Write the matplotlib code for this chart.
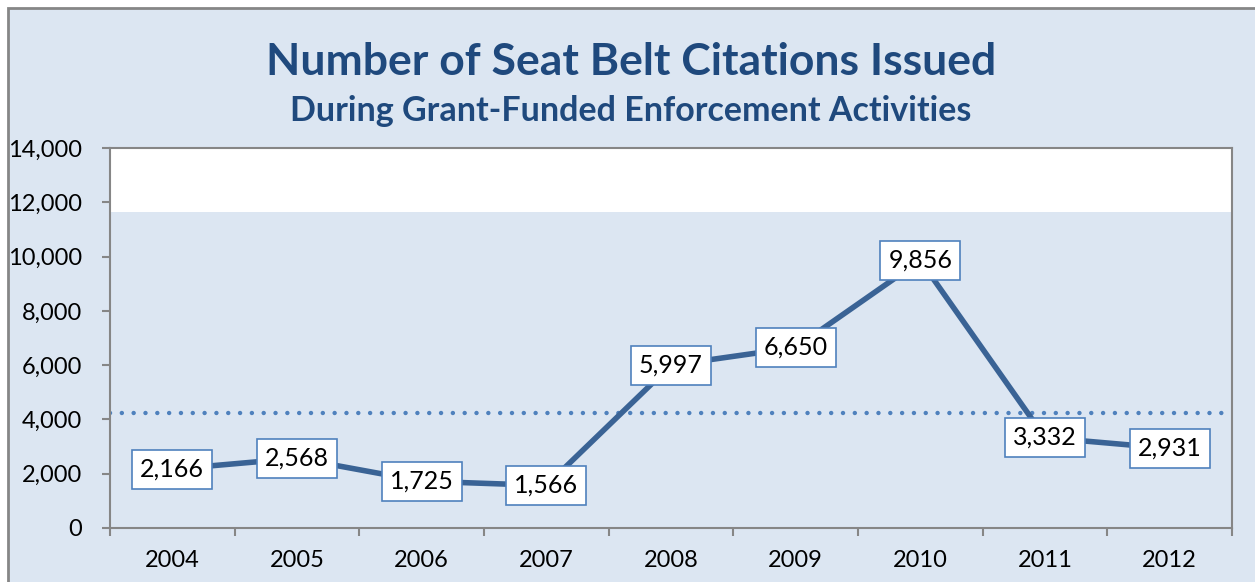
import matplotlib
matplotlib.use("Agg")
import matplotlib.pyplot as plt
from matplotlib.patches import Rectangle

years = ["2004", "2005", "2006", "2007", "2008", "2009", "2010", "2011", "2012"]
citations = [2166, 2568, 1725, 1566, 5997, 6650, 9856, 3332, 2931]
reference_level = 4220
white_band_start = 11650
y_ticks = [0, 2000, 4000, 6000, 8000, 10000, 12000, 14000]

BG = "#DCE6F2"
LINE = "#3A6395"
DOT = "#4F81BD"
TITLE = "#1F497D"
GRID = "#868686"

plt.rcParams['font.family'] = ['Lato', 'DejaVu Sans']

fig = plt.figure(figsize=(12.55, 5.82), dpi=100)
fig.patch.set_facecolor("white")
W, H = 1255, 582
fig.patches.append(Rectangle((8 / W, -0.1), 1.2, 1 - 8 / H + 0.1, transform=fig.transFigure,
                             facecolor=BG, edgecolor=GRID, linewidth=2, zorder=-5))

ax = fig.add_axes([110 / W, 1 - 528 / H, (1232 - 110) / W, (528 - 148) / H])
ax.set_facecolor(BG)
x = list(range(len(years)))
ax.axhspan(white_band_start, 14000, color="white", zorder=0.5, lw=0)
ax.axhline(reference_level, color=DOT, lw=3.2, linestyle=(0, (0.01, 2.65)),
           dash_capstyle="round", zorder=2)
ax.plot(x, citations, color=LINE, lw=4, zorder=3, solid_capstyle="butt")
for xi, v in zip(x, citations):
    ax.text(xi, v, f"{v:,}", ha="center", va="center", fontsize=18, color="black", zorder=4,
            bbox=dict(boxstyle="square,pad=0.32", facecolor="white", edgecolor=DOT, linewidth=1.2))

ax.set_xlim(-0.5, len(years) - 0.5)
ax.set_ylim(0, 14000)
ax.set_yticks(y_ticks)
ax.set_yticklabels([f"{t:,}" for t in y_ticks], fontsize=17)
ax.set_xticks([i + 0.5 for i in range(-1, len(years))])
ax.set_xticklabels([])
ax.set_xticks(x, minor=True)
ax.set_xticklabels(years, minor=True, fontsize=17)
ax.tick_params(axis="x", which="minor", length=0, pad=16)
ax.tick_params(axis="x", which="major", length=6, color=GRID, width=1.5)
ax.tick_params(axis="y", length=6, color=GRID, width=1.5, pad=14)
for s in ax.spines.values():
    s.set_color(GRID)
    s.set_linewidth(1.5)

fig.text(631 / W, 1 - 62 / H, "Number of Seat Belt Citations Issued", ha="center", va="center",
         fontsize=32, fontweight="bold", color=TITLE)
fig.text(631 / W, 1 - 111 / H, "During Grant-Funded Enforcement Activities", ha="center", va="center",
         fontsize=24.5, fontweight="bold", color=TITLE)

fig.savefig("out.png", dpi=100, facecolor=fig.get_facecolor())
